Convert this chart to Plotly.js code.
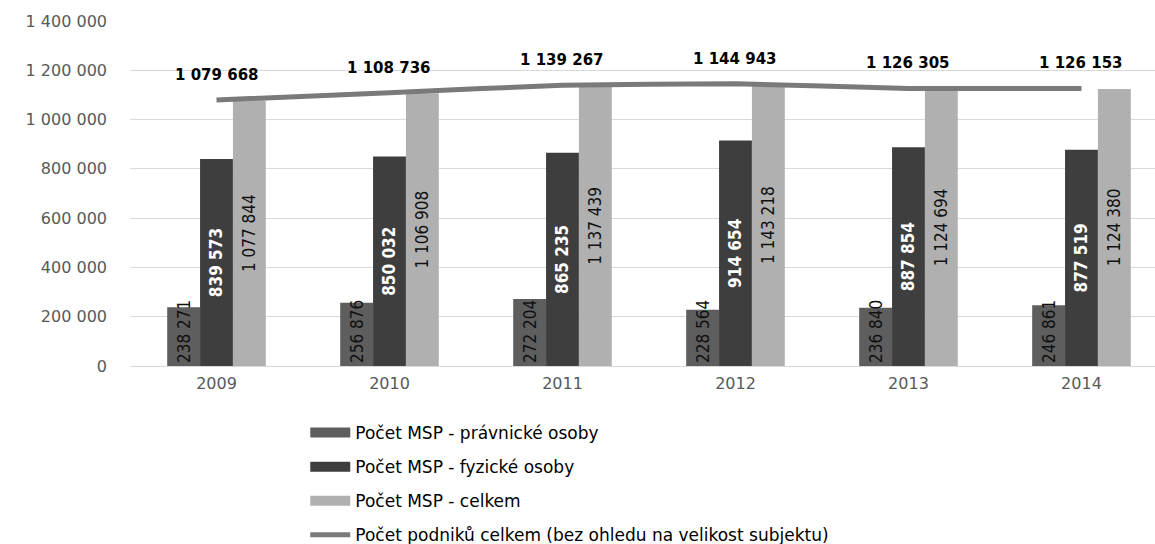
<!DOCTYPE html>
<html><head><meta charset="utf-8">
<script src="https://cdn.plot.ly/plotly-3.0.1.min.js"></script>
<style>body{margin:0;background:#fff}#c{width:1155px;height:544px}</style>
</head><body><div id="c"></div>
<script>
const years = ['2009','2010','2011','2012','2013','2014'];
const pravnicke = [238271, 256876, 272204, 228564, 236840, 246861];
const fyzicke = [839573, 850032, 865235, 914654, 887854, 877519];
const celkemMSP = [1077844, 1106908, 1137439, 1143218, 1124694, 1124380];
const podnikyCelkem = [1079668, 1108736, 1139267, 1144943, 1126305, 1126153];
const names = ['Počet MSP - právnické osoby','Počet MSP - fyzické osoby','Počet MSP - celkem','Počet podniků celkem (bez ohledu na velikost subjektu)'];
const yTicks = [0,200000,400000,600000,800000,1000000,1200000,1400000];

function fmt(v){return String(v).replace(/\B(?=(\d{3})+(?!\d))/g,' ');}

const colors = ['#5e5e5e','#3e3e3e','#b0b0b0','#7a7a7a'];
const narrow = 'Liberation Sans Narrow, DejaVu Sans Condensed, Arial Narrow, sans-serif';
const traces = [
 {type:'bar',name:names[0],x:years,y:pravnicke,marker:{color:colors[0],line:{width:0}},
  text:pravnicke.map(fmt),textposition:'inside',insidetextanchor:'start',textangle:-90,constraintext:'none',
  textfont:{family:narrow,size:17,color:'#111'},showlegend:false,hoverinfo:'y'},
 {type:'bar',name:names[1],x:years,y:fyzicke,marker:{color:colors[1],line:{width:0}},
  text:fyzicke.map(fmt),textposition:'inside',insidetextanchor:'middle',textangle:-90,constraintext:'none',
  textfont:{family:narrow,size:17,color:'#fff',weight:'bold'},showlegend:false,hoverinfo:'y'},
 {type:'bar',name:names[2],x:years,y:celkemMSP,marker:{color:colors[2],line:{width:0}},
  text:celkemMSP.map(fmt),textposition:'inside',insidetextanchor:'middle',textangle:-90,constraintext:'none',
  textfont:{family:narrow,size:17,color:'#111'},showlegend:false,hoverinfo:'y'},
 {type:'scatter',mode:'lines',name:names[3],x:years,y:podnikyCelkem,line:{color:colors[3],width:5,shape:'spline',smoothing:0.5},
  showlegend:false,hoverinfo:'y'}
];
// legend entries (wide swatches like the original)
names.forEach((n,i)=>{
  traces.push({type:'scatter',mode:'lines',name:n,x:[null],y:[null],
    line:{color:colors[i],width:i<3?10:5},legendgroup:'g'+i,showlegend:true,hoverinfo:'skip'});
});

const annotations = years.map((yr,i)=>({x:i,y:podnikyCelkem[i],xref:'x',yref:'y',text:fmt(podnikyCelkem[i]),showarrow:false,
  yshift:25,font:{family:'DejaVu Sans, Verdana, sans-serif',size:15,color:'#000',weight:'bold'}}));

const layout = {
 width:1155,height:544,paper_bgcolor:'#fff',plot_bgcolor:'#fff',
 margin:{l:130,r:0,t:21,b:178,autoexpand:false},
 separators:', ',
 barmode:'group',bargap:0.43,bargroupgap:0,
 font:{family:'DejaVu Sans, sans-serif',color:'#595959',size:16},
 xaxis:{type:'category',range:[-0.5,5.425],showgrid:false,showline:true,linecolor:'#d9d9d9',linewidth:1,
   ticks:'',ticklabelstandoff:3,tickfont:{size:16,color:'#595959'},fixedrange:true},
 yaxis:{range:[0,1400000],tickvals:yTicks,ticktext:yTicks.map(fmt),showgrid:true,gridcolor:'#d9d9d9',gridwidth:1,
   zeroline:false,ticks:'',ticklabelstandoff:22,tickfont:{size:16,color:'#595959'},fixedrange:true},
 showlegend:true,
 legend:{orientation:'v',x:0.171,xanchor:'left',y:-0.142,yanchor:'top',tracegroupgap:9,traceorder:'grouped',
   itemwidth:40,font:{family:'DejaVu Sans, sans-serif',size:17,color:'#000'},bgcolor:'rgba(0,0,0,0)'},
 annotations:annotations
};
Plotly.newPlot('c',traces,layout,{displayModeBar:false,staticPlot:true});
</script></body></html>
